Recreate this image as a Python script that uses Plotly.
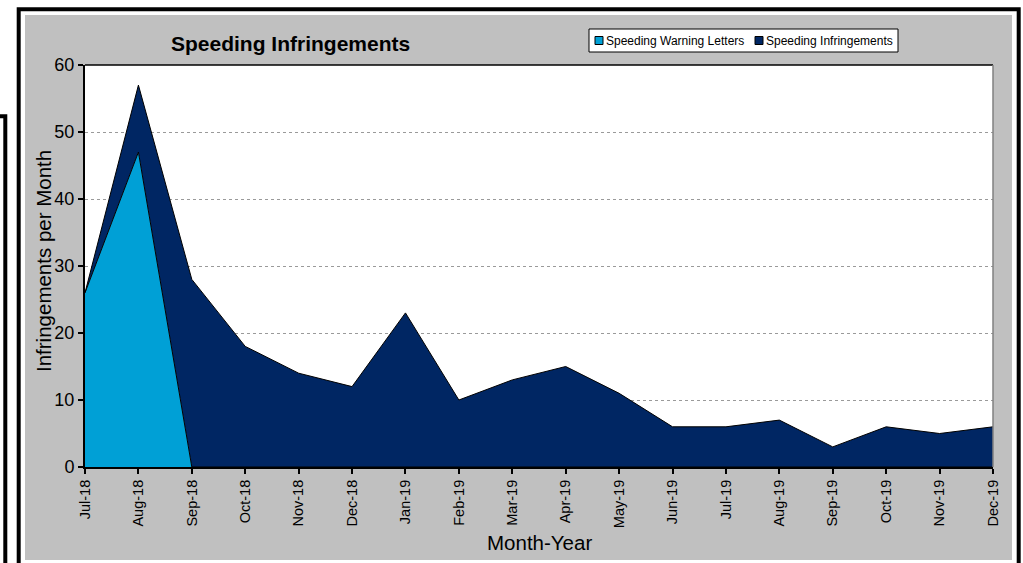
import plotly.graph_objects as go

months = ["Jul-18", "Aug-18", "Sep-18", "Oct-18", "Nov-18", "Dec-18", "Jan-19", "Feb-19",
          "Mar-19", "Apr-19", "May-19", "Jun-19", "Jul-19", "Aug-19", "Sep-19", "Oct-19",
          "Nov-19", "Dec-19"]
warning_letters = [26, 47, 0, 0, 0, 0, 0, 0, 0, 0, 0, 0, 0, 0, 0, 0, 0, 0]
infringements = [0, 10, 28, 18, 14, 12, 23, 10, 13, 15, 11, 6, 6, 7, 3, 6, 5, 6]
y_ticks = [0, 10, 20, 30, 40, 50, 60]

LIGHT = "#00A0D6"
DARK = "#002663"
FONT = "Arial, Liberation Sans, sans-serif"

W, H = 1023, 563
L, R, T, B = 85, 993, 65, 467


def px(x):
    return (x - L) / (R - L)


def py(y):
    return (B - y) / (B - T)


fig = go.Figure()
fig.add_trace(go.Scatter(x=months, y=warning_letters, name="Speeding Warning Letters",
                         stackgroup="s", mode="lines", fillcolor=LIGHT,
                         line=dict(color="black", width=1), showlegend=False))
fig.add_trace(go.Scatter(x=months, y=infringements, name="Speeding Infringements",
                         stackgroup="s", mode="lines", fillcolor=DARK,
                         line=dict(color="black", width=1), showlegend=False))

shapes = [
    dict(type="rect", xref="paper", yref="paper", x0=px(25), x1=px(1012), y0=py(560), y1=py(15),
         fillcolor="#C0C0C0", line=dict(width=0), layer="below"),
    dict(type="rect", xref="paper", yref="paper", x0=0, x1=1, y0=0, y1=1,
         fillcolor="white", line=dict(width=0), layer="below"),
    # plot frame top/right
    dict(type="line", xref="paper", yref="paper", x0=0, x1=1, y0=1, y1=1,
         line=dict(color="black", width=1.5)),
    dict(type="line", xref="paper", yref="paper", x0=1, x1=1, y0=0, y1=1,
         line=dict(color="#808080", width=1.5)),
    # outer border
    dict(type="rect", xref="paper", yref="paper", x0=px(18.7), x1=px(1018.7), y0=py(580), y1=py(9.3),
         line=dict(color="black", width=4)),
    # fragment of neighbouring frame
    dict(type="rect", xref="paper", yref="paper", x0=px(-30), x1=px(5.3), y0=py(600), y1=py(116.3),
         line=dict(color="black", width=4)),
    # legend box
    dict(type="rect", xref="paper", yref="paper", x0=px(589), x1=px(898), y0=py(52), y1=py(29),
         fillcolor="white", line=dict(color="black", width=1)),
    dict(type="rect", xref="paper", yref="paper", x0=px(595), x1=px(603), y0=py(44.5), y1=py(36.5),
         fillcolor=LIGHT, line=dict(color="black", width=1)),
    dict(type="rect", xref="paper", yref="paper", x0=px(755), x1=px(763), y0=py(44.5), y1=py(36.5),
         fillcolor=DARK, line=dict(color="black", width=1)),
]

annotations = [
    dict(text="<b>Speeding Infringements</b>", xref="paper", yref="paper", x=px(290), y=py(44),
         xanchor="center", yanchor="middle", showarrow=False,
         font=dict(family=FONT, size=21, color="black")),
    dict(text="Speeding Warning Letters", xref="paper", yref="paper", x=px(604), y=py(40.5),
         xanchor="left", yanchor="middle", showarrow=False,
         font=dict(family=FONT, size=12, color="black")),
    dict(text="Speeding Infringements", xref="paper", yref="paper", x=px(764), y=py(40.5),
         xanchor="left", yanchor="middle", showarrow=False,
         font=dict(family=FONT, size=12, color="black")),
    dict(text="Infringements per Month", xref="paper", yref="paper", x=px(43), y=py(261),
         xanchor="center", yanchor="middle", textangle=-90, showarrow=False,
         font=dict(family=FONT, size=20.5, color="black")),
    dict(text="Month-Year", xref="paper", yref="paper", x=px(539), y=py(542),
         xanchor="center", yanchor="middle", showarrow=False,
         font=dict(family=FONT, size=20.5, color="black")),
]

fig.update_layout(
    width=W, height=H,
    margin=dict(l=L, r=W - R, t=T, b=H - B, pad=0),
    paper_bgcolor="white", plot_bgcolor="white",
    showlegend=False,
    shapes=shapes, annotations=annotations,
    font=dict(family=FONT, color="black"),
)
fig.update_xaxes(type="category", range=[0, len(months) - 1], showgrid=False,
                 showline=True, linecolor="black", linewidth=2,
                 ticks="outside", ticklen=5, tickcolor="black", tickwidth=1.5,
                 tickangle=-90, tickfont=dict(family=FONT, size=14.5, color="black"),
                 zeroline=False, automargin=False)
fig.update_yaxes(range=[0, 60], tickvals=y_ticks, showgrid=True, gridcolor="#9a9a9a",
                 griddash="dot", gridwidth=1,
                 showline=True, linecolor="black", linewidth=2,
                 ticks="outside", ticklen=5, tickcolor="black", tickwidth=1.5,
                 tickfont=dict(family=FONT, size=18, color="black"),
                 zeroline=False, automargin=False)

fig.write_html("out.html", config={"displayModeBar": False},
               post_script="document.body.style.margin='0';document.body.style.overflow='hidden';")
